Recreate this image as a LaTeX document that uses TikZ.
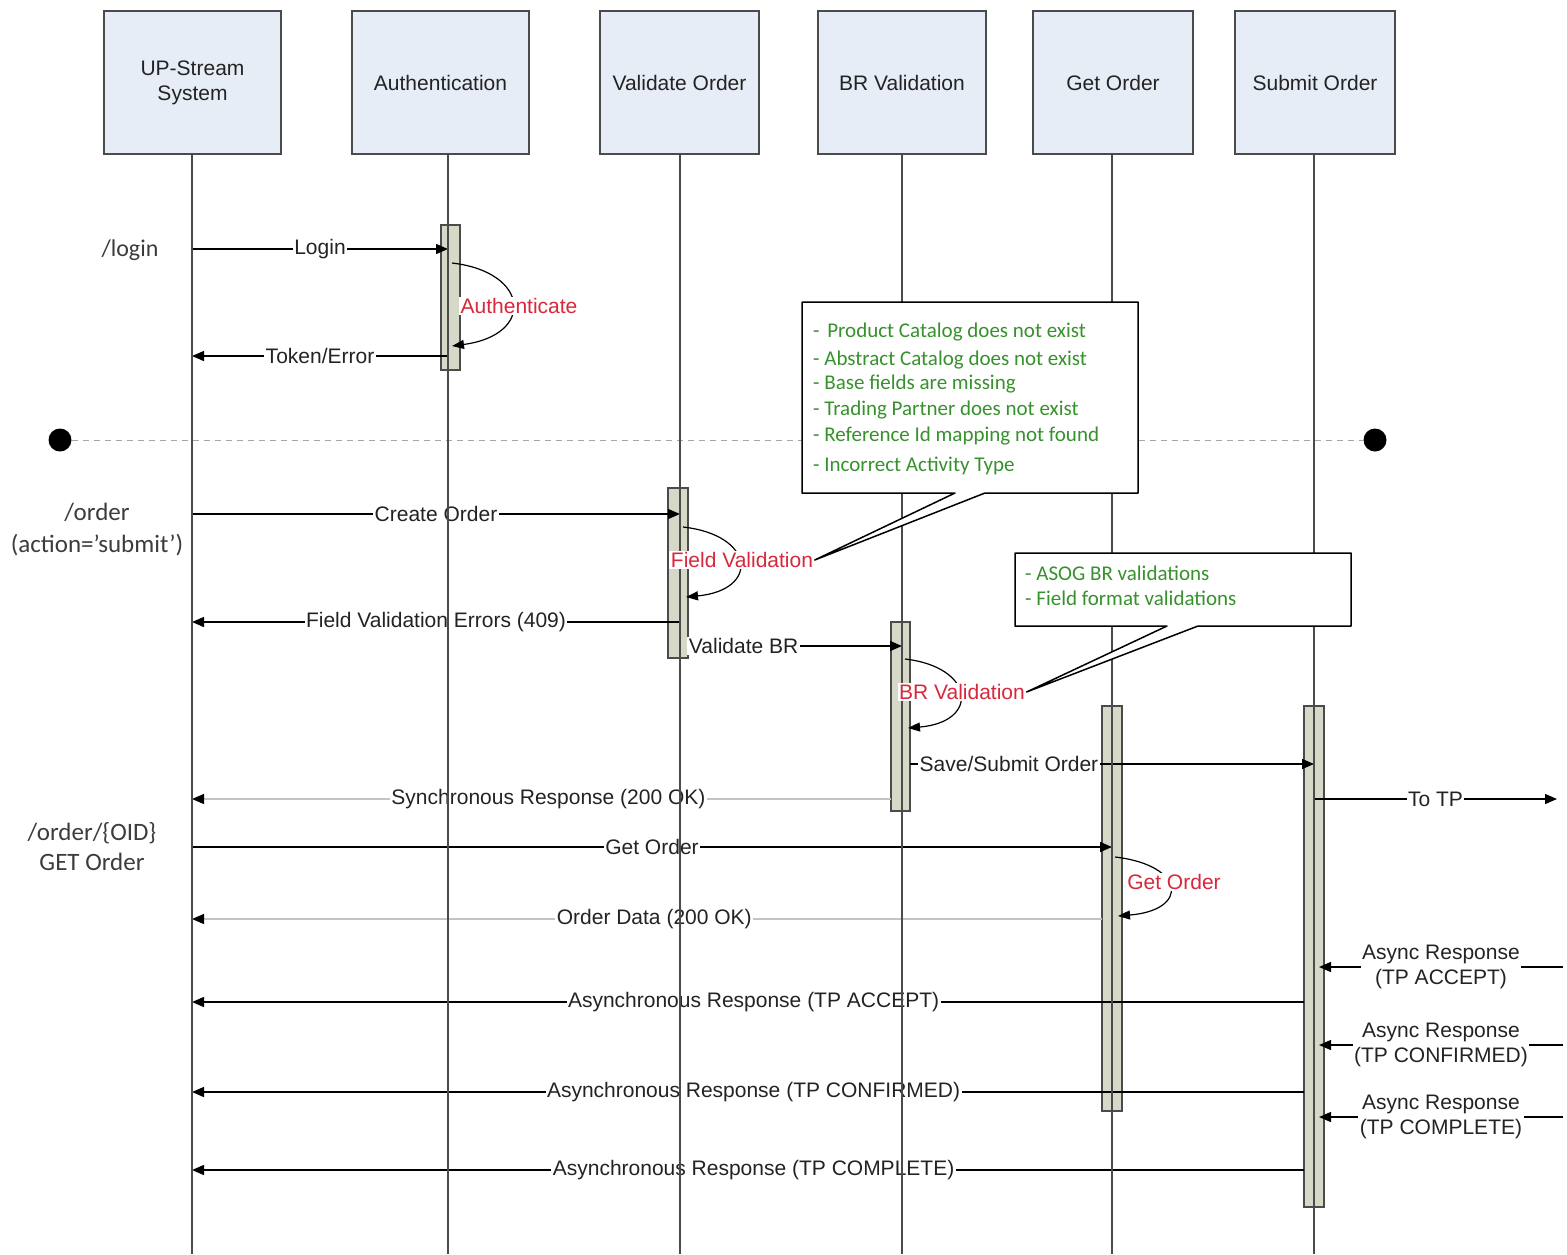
\documentclass[tikz,border=0pt]{standalone}
\usepackage{fontspec}
\setmainfont{Liberation Sans}
\newfontfamily\notefont{Carlito}
\usetikzlibrary{arrows.meta,calc}
\definecolor{headfill}{RGB}{231,237,247}
\definecolor{edge}{RGB}{75,75,75}
\definecolor{barfill}{RGB}{214,217,199}
\definecolor{notegreen}{RGB}{55,145,45}
\definecolor{selfred}{RGB}{215,40,60}
\definecolor{retgray}{RGB}{195,195,195}
\definecolor{txt}{RGB}{35,35,35}
\definecolor{sidetxt}{RGB}{60,60,60}
\begin{document}
\begin{tikzpicture}[x=1pt,y=-1pt,
  every node/.style={font=\fontsize{21}{25}\selectfont, text=txt},
  head/.style={draw=edge, line width=2pt, fill=headfill, minimum width=177pt, minimum height=143pt, align=center, inner sep=0pt},
  life/.style={draw=edge, line width=1.6pt},
  actbar/.style={draw=edge, line width=1.4pt, fill=barfill},
  msg/.style={draw=black, line width=1.4pt, -{Triangle[length=12pt,width=10pt]}},
  ret/.style={draw=retgray, line width=1.2pt, -{Triangle[length=12pt,width=10pt,color=black]}},
  lbl/.style={fill=white, inner sep=1.5pt},
  selfarc/.style={draw=black, line width=1.2pt, -{Triangle[length=12pt,width=9pt]}},
  selflbl/.style={fill=white, inner sep=1.5pt, text=selfred},
  note/.style={draw=black, line width=1.5pt, fill=white, line join=round},
  notetxt/.style={font=\notefont\fontsize{21}{25}\selectfont, text=notegreen, inner sep=0pt, text height=14pt, text depth=5pt, anchor=west},
  side/.style={text=sidetxt, align=center},
  dot/.style={circle, fill=black, minimum size=23pt, inner sep=0pt},
  sep/.style={draw=black!35, line width=1pt, dash pattern=on 6pt off 5pt},
]
\useasboundingbox (0,0) rectangle (1567,1254);

% headers
\node[head] (hup) at (192.5,82.5) {UP-Stream\\System};
\node[head] (hauth) at (440.5,82.5) {Authentication};
\node[head, minimum width=159pt] (hval) at (679.5,82.5) {Validate Order};
\node[head, minimum width=168pt] (hbr) at (902,82.5) {BR Validation};
\node[head, minimum width=160pt] (hget) at (1113,82.5) {Get Order};
\node[head, minimum width=160pt] (hsub) at (1315,82.5) {Submit Order};

\coordinate (Lup) at (192,154);
\coordinate (Lauth) at (448,154);
\coordinate (Lval) at (680,154);
\coordinate (Lbr) at (902,154);
\coordinate (Lget) at (1112,154);
\coordinate (Lsub) at (1314,154);

% separator
\node[dot] (d1) at (60,440) {};
\node[dot] (d2) at (1375,440) {};
\draw[sep] (d1) -- (d2);

% activation bars
\draw[actbar] (441,225) rectangle (460,370);
\draw[actbar] (668,488) rectangle (688,658);
\draw[actbar] (891,622) rectangle (910,811);
\draw[actbar] (1102,706) rectangle (1122,1111);
\draw[actbar] (1304,706) rectangle (1324,1207);

% messages
\draw[msg] (Lup |- 0,249) -- node[lbl]{Login} (Lauth |- 0,249);
\draw[msg] (Lauth |- 0,356) -- node[lbl]{Token/Error} (Lup |- 0,356);
\draw[msg] (Lup |- 0,514) -- node[lbl]{Create Order} (Lval |- 0,514);
\draw[msg] (Lval |- 0,622) -- node[lbl]{Field Validation Errors (409)} (Lup |- 0,622);
\draw[msg] ($(Lval |- 0,646)+(8,0)$) -- node[lbl,pos=0.26]{Validate BR} (Lbr |- 0,646);
\draw[msg] ($(Lbr |- 0,764)+(8,0)$) -- node[lbl,pos=0.245]{Save/Submit Order} (Lsub |- 0,764);
\draw[ret] ($(Lbr |- 0,799)-(11,0)$) -- node[lbl,pos=0.49]{Synchronous Response (200 OK)} (Lup |- 0,799);
\coordinate (tpout) at (1557,799);
\draw[msg] (Lsub |- 0,799) -- node[lbl]{To TP} (tpout);
\draw[msg] (Lup |- 0,847) -- node[lbl]{Get Order} (Lget |- 0,847);
\draw[ret] ($(Lget |- 0,919)-(10,0)$) -- node[lbl,pos=0.492]{Order Data (200 OK)} (Lup |- 0,919);

\coordinate (tpA) at (1563,967);
\coordinate (tpB) at (1563,1045);
\coordinate (tpC) at (1563,1117);
\draw[msg] (tpA) -- node[lbl, align=center]{Async Response\\(TP ACCEPT)} ($(Lsub |- 0,967)+(5,0)$);
\draw[msg] (tpB) -- node[lbl, align=center]{Async Response\\(TP CONFIRMED)} ($(Lsub |- 0,1045)+(5,0)$);
\draw[msg] (tpC) -- node[lbl, align=center]{Async Response\\(TP COMPLETE)} ($(Lsub |- 0,1117)+(5,0)$);

\draw[msg] ($(Lsub |- 0,1002)-(10,0)$) -- node[lbl,pos=0.495]{Asynchronous Response (TP ACCEPT)} (Lup |- 0,1002);
\draw[msg] ($(Lsub |- 0,1092)-(10,0)$) -- node[lbl,pos=0.495]{Asynchronous Response (TP CONFIRMED)} (Lup |- 0,1092);
\draw[msg] ($(Lsub |- 0,1170)-(10,0)$) -- node[lbl,pos=0.495]{Asynchronous Response (TP COMPLETE)} (Lup |- 0,1170);

% lifelines
\foreach \L in {Lup,Lauth,Lval,Lbr,Lget,Lsub}
  \draw[life] (\L) -- (\L |- 0,1254);

% self calls
\draw[selfarc] (452,263) .. controls (530,272) and (535,335) .. (452,346);
\node[selflbl] (sa) at (519,306) {Authenticate};
\draw[selfarc] (683,527) .. controls (755,535) and (760,590) .. (686,597);
\node[selflbl] (sf) at (742,560) {Field Validation};
\draw[selfarc] (905,659) .. controls (975,667) and (980,722) .. (908,728);
\node[selflbl] (sb) at (962,692) {BR Validation};
\draw[selfarc] (1115,857) .. controls (1185,865) and (1190,910) .. (1118,916);
\node[selflbl] (sg) at (1174,882) {Get Order};

% notes
\draw[note] (802,302) -- (1138,302) -- (1138,493) -- (985,493) -- (sf.east) -- (955,493) -- (802,493) -- cycle;
\node[notetxt] (na1) at (813,333) {- \hspace{3pt}Product Catalog does not exist};
\node[notetxt] (na2) at (813,361) {- Abstract Catalog does not exist};
\node[notetxt] (na3) at (813,385) {- Base fields are missing};
\node[notetxt] (na4) at (813,411) {- Trading Partner does not exist};
\node[notetxt] (na5) at (813,437) {- Reference Id mapping not found};
\node[notetxt] (na6) at (813,467) {- Incorrect Activity Type};

\draw[note] (1015,553) -- (1351,553) -- (1351,626) -- (1198,626) -- (sb.east) -- (1167,626) -- (1015,626) -- cycle;
\node[notetxt] (nb1) at (1025,576) {- ASOG BR validations};
\node[notetxt] (nb2) at (1025,601) {- Field format validations};

% side labels
\node[side, font=\notefont\fontsize{24}{30}\selectfont] (slog) at (130,250) {/login};
\node[side, font=\notefont\fontsize{25}{32}\selectfont] (sord) at (97,530) {/order\\(action=’submit’)};
\node[side, font=\notefont\fontsize{25}{30}\selectfont] (soid) at (92,847) {/order/\{OID\}\\GET Order};
\end{tikzpicture}
\end{document}
